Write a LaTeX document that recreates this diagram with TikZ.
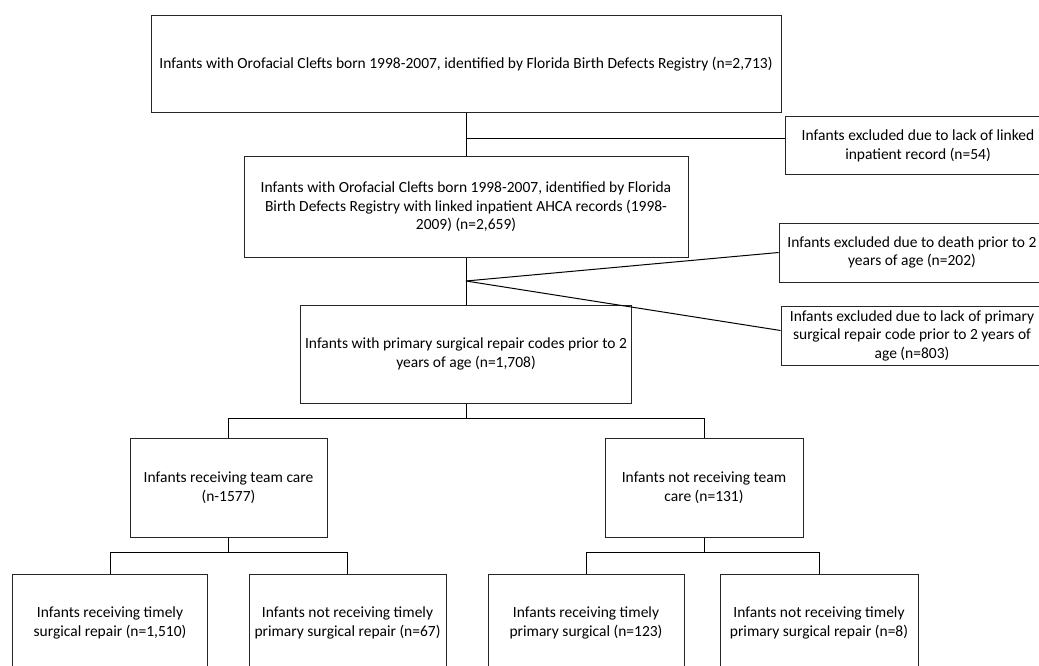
\documentclass[tikz,border=0pt]{standalone}
\usepackage{fontspec}
\setmainfont{Carlito}
\usepackage{tikz}

\begin{document}
\begin{tikzpicture}
  [x=1pt,y=-1pt,line width=1pt,
   every node/.style={draw=black!85,line width=1pt,align=center,inner sep=0pt,
     font=\fontsize{15.5}{18.5}\selectfont},
   box/.style={minimum width=#1,minimum height=98}]
  \useasboundingbox (0,0) rectangle (1039,666);
  \node[box=630,minimum height=97] (b1) at (466,64.5) {Infants with Orofacial Clefts born 1998-2007, identified by Florida Birth Defects Registry (n=2,713)};
  \node[box=444,minimum height=100] (b2) at (466,207) {Infants with Orofacial Clefts born 1998-2007, identified by Florida\\Birth Defects Registry with linked inpatient AHCA records (1998-\\2009) (n=2,659)};
  \node[box=331] (b3) at (466,354) {Infants with primary surgical repair codes prior to 2\\years of age (n=1,708)};
  \node[box=266,minimum height=58] (e1) at (918,146) {Infants excluded due to lack of linked\\inpatient record (n=54)};
  \node[box=266,minimum height=59] (e2) at (912,252.5) {Infants excluded due to death prior to 2\\years of age (n=202)};
  \node[box=262,minimum height=59] (e3) at (912,335.5) {Infants excluded due to lack of primary\\surgical repair code prior to 2 years of\\age (n=803)};
  \node[box=197,minimum height=99] (t1) at (228.5,487.5) {Infants receiving team care\\(n-1577)};
  \node[box=198,minimum height=99] (t2) at (704,487.5) {Infants not receiving team\\care (n=131)};
  \node[box=195] (s1) at (110,623) {Infants receiving timely\\surgical repair (n=1,510)};
  \node[box=197] (s2) at (347.5,623) {Infants not receiving timely\\primary surgical repair (n=67)};
  \node[box=196] (s3) at (586,623) {Infants receiving timely\\primary surgical (n=123)};
  \node[box=198] (s4) at (819,623) {Infants not receiving timely\\primary surgical repair (n=8)};
  \coordinate (j1) at (466,139);
  \coordinate (j2) at (466,281);

  \draw (b1) -- (b2);
  \draw (b2) -- (b3);
  \draw (j1) -- (j1 -| e1.west);
  \draw (j2) -- (e2.west);
  \draw (j2) -- ([yshift=5pt]e3.west);
  \foreach \from/\to in {b3/t1,b3/t2,t1/s1,t1/s2,t2/s3,t2/s4}
    \draw (\from.south) -- ++(0,15) -| (\to.north);

\end{tikzpicture}
\end{document}
